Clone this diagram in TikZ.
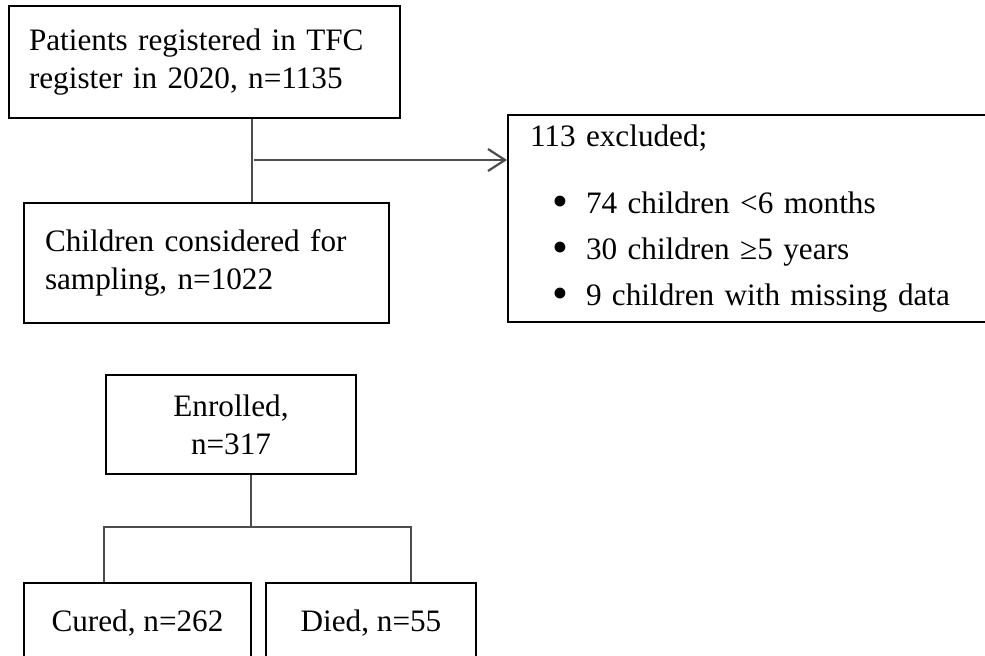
\documentclass[tikz,border=0pt]{standalone}
\usepackage{fontspec}
\setmainfont{Liberation Serif}
\usetikzlibrary{arrows.meta}
\newcommand{\bulitem}{\hspace*{11pt}\makebox[17pt][l]{\raisebox{-1.6pt}{\scalebox{1.45}{\textbullet}}}}

\begin{document}
\begin{tikzpicture}[x=0.5pt,y=-0.5pt,
  box/.style={draw=black,line width=1pt,inner sep=0pt,font=\fontsize{15.6}{19}\selectfont},
  link/.style={draw=black!70,line width=1.1pt},
  tip/.style={link,-{Straight Barb[length=8.5pt,width=11pt]}}]
\path[use as bounding box] (0,0) rectangle (985,655);
\clip (0,0) rectangle (985,655);
% upper part
\node[box,minimum width=195.5pt,minimum height=56pt,text width=175.5pt,align=left] (reg) at (204.5,62)
  {Patients registered in TFC\\register in 2020, n=1135};
\node[box,minimum width=182.5pt,minimum height=60pt,text width=161.5pt,align=left] (cons) at (206.5,263)
  {Children considered for\\sampling, n=1022};
\node[box,minimum width=243.5pt,minimum height=103.5pt,text width=221.5pt,align=left] (excl) at (751.5,218.5)
  {113 excluded;\\[14.5pt]
   \bulitem 74 children <6 months\\[4pt]
   \bulitem 30 children ≥5 years\\[4pt]
   \bulitem 9 children with missing data};
\coordinate (split) at (252,160);
\draw[link] (split |- reg.south) -- (split |- cons.north);
\draw[tip] ([xshift=1pt]split) -- (split -| excl.west);
% lower part
\node[box,minimum width=125pt,minimum height=49.5pt,align=center] (enr) at (231,424.5) {Enrolled,\\n=317};
\node[box,minimum width=113.5pt,minimum height=40pt] (cured) at (137.5,623) {Cured, n=262};
\node[box,minimum width=105pt,minimum height=40pt] (died) at (371,623) {Died, n=55};
\coordinate (fork) at (251,527);
\coordinate (lft) at (104,527);
\coordinate (rgt) at (411,527);
\draw[link] (fork |- enr.south) -- (fork);
\draw[link] (lft |- cured.north) -- (lft) -- (rgt) -- (rgt |- died.north);
\end{tikzpicture}
\end{document}
